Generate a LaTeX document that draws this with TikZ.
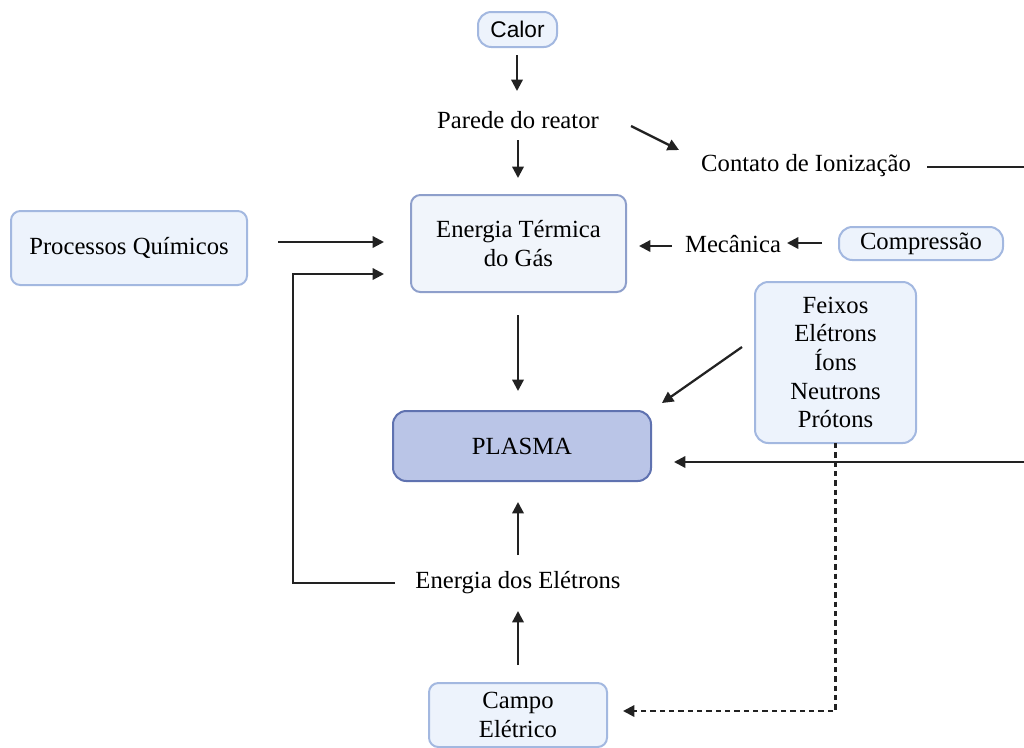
\documentclass[tikz,border=0pt]{standalone}
\usepackage{fontspec}
\setmainfont{Liberation Serif}
\newfontfamily\sansf{Liberation Sans}
\usetikzlibrary{arrows.meta}
\definecolor{boxfill}{HTML}{EDF3FC}
\definecolor{boxline}{HTML}{A3B8E0}
\definecolor{tfill}{HTML}{F1F5FB}
\definecolor{tline}{HTML}{8E9FCB}
\definecolor{pfill}{HTML}{BAC5E7}
\definecolor{pline}{HTML}{5F72B0}
\definecolor{arr}{HTML}{222222}
\tikzset{
  every node/.style={font=\fontsize{18.5}{21.5}\selectfont, align=center, inner sep=0pt},
  bx/.style={draw=boxline, fill=boxfill, line width=1.5pt, rounded corners=7pt},
  pill/.style={draw=boxline, fill=boxfill, line width=1.5pt, rounded corners=10pt},
  conn/.style={draw=arr, line width=1.7pt, -{Triangle[length=8.5pt,width=8.5pt]}},
  plain/.style={draw=arr, line width=1.7pt},
  dot/.style={draw=arr, line width=1.7pt, dash pattern=on 4pt off 3pt, -{Triangle[length=8.5pt,width=8.5pt]}}
}
\begin{document}
\begin{tikzpicture}[x=0.75pt,y=-0.75pt]
\useasboundingbox (0,0) rectangle (1024,747);
% nodes
\node[pill, minimum width=59.25pt, minimum height=26.25pt, font=\sansf\fontsize{17}{20}\selectfont] (calor) at (517.5,29.5) {Calor};
\node (parede) at (518,120) {Parede do reator};
\node[bx, draw=tline, fill=tfill, minimum width=161.25pt, minimum height=72.75pt] (termica) at (518.5,243.5) {Energia Térmica\\do Gás};
\node (contato) at (806,166) {Contato de Ionização};
\node[bx, minimum width=177pt, minimum height=55.5pt] (quim) at (129,248) {Processos Químicos};
\node (mec) at (733,244) {Mecânica};
\node[pill, minimum width=123pt, minimum height=24.75pt] (comp) at (921,243.5) {Compressão};
\node[bx, draw=pline, fill=pfill, rounded corners=10pt, minimum width=193.5pt, minimum height=52.5pt] (plasma) at (522,446) {PLASMA};
\node[bx, rounded corners=10pt, minimum width=120.75pt, minimum height=120.75pt] (feixos) at (835.5,362.5) {Feixos\\Elétrons\\Íons\\Neutrons\\Prótons};
\node (eletrons) at (518,583) {Energia dos Elétrons};
\node[bx, minimum width=133.5pt, minimum height=48pt] (campo) at (518,715) {Campo\\Elétrico};
% helper coordinates (connector ends, free of the nodes)
\coordinate (c1a) at (517,55);   \coordinate (c1b) at (517,91);
\coordinate (c2a) at (518,140);  \coordinate (c2b) at (518,178);
\coordinate (c3a) at (631,126);  \coordinate (c3b) at (679,150);
\coordinate (qa) at (278,242);   \coordinate (qb) at (384,242);
\coordinate (ea) at (395,583);   \coordinate (la) at (293,583);
\coordinate (lb) at (384,274);
\coordinate (ma) at (672,246);   \coordinate (mb) at (639,246);
\coordinate (ka) at (822,243);   \coordinate (kb) at (787,243);
\coordinate (ta) at (518,315);   \coordinate (tb) at (518,391);
\coordinate (fa) at (742,347);   \coordinate (fb) at (662,403);
\coordinate (ra) at (927,167);   \coordinate (rb) at (1040,167);
\coordinate (rc) at (1040,462);  \coordinate (rd) at (674,462);
\coordinate (da) at (835.5,443); \coordinate (dc) at (835.5,711);
\coordinate (db) at (623,711);
\coordinate (ua) at (518,555);   \coordinate (ub) at (518,502);
\coordinate (va) at (518,665);   \coordinate (vb) at (518,611);
% connectors
\path[conn] (c1a) -- (c1b);
\path[conn] (c2a) -- (c2b);
\path[conn] (c3a) -- (c3b);
\path[conn] (qa) -- (qb);
\path[conn] (ea) -- (la) |- (lb);
\path[conn] (ma) -- (mb);
\path[conn] (ka) -- (kb);
\path[conn] (ta) -- (tb);
\path[conn] (fa) -- (fb);
\path[conn] (ra) -- (rb) -- (rc) -- (rd);
\path[dot] (da) -- (dc) -- (db);
\path[conn] (ua) -- (ub);
\path[conn] (va) -- (vb);
\end{tikzpicture}
\end{document}
